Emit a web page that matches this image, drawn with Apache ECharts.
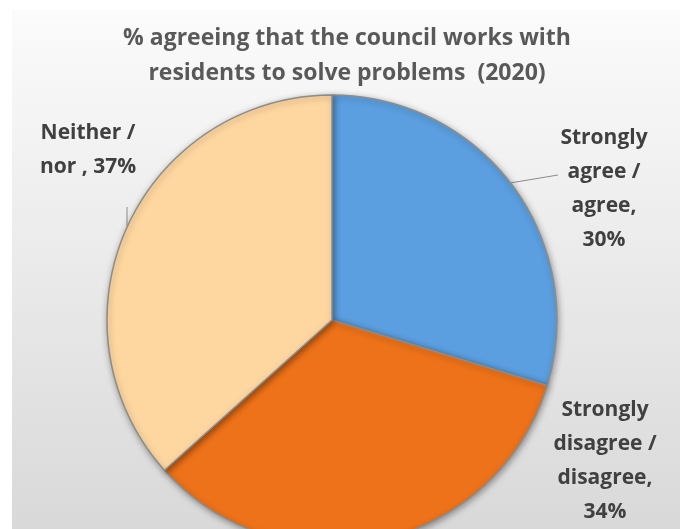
<!DOCTYPE html>
<html>
<head>
<meta charset="utf-8">
<script src="https://cdn.jsdelivr.net/npm/echarts@6/dist/echarts.min.js"></script>
<style>
  html, body { margin: 0; padding: 0; background: #fff; }
  #main { width: 686px; height: 529px; }
</style>
</head>
<body>
<div id="main"></div>
<script>
// data
const titleLines = ['% agreeing that the council works with', 'residents to solve problems  (2020)']
const categories = ['Strongly\nagree /\nagree', 'Strongly\ndisagree /\ndisagree', 'Neither /\nnor ']
const shares = [30, 34, 37]
const colors = ['#5b9fe0', '#ee7219', '#fed7a0']
// text between name and value, as the picture breaks it
const joiners = [',\n', ',\n', ', ']

const font = '"Open Sans", "Liberation Sans", sans-serif'

// where each label sits (x, y of the text block centre) and its leader line
const labelSpots = [
  { x: 604, y: 189, line: [[510, 183], [558, 175]] },
  { x: 605, y: 461, line: null },
  { x: 88, y: 150, line: [[127, 226], [127, 207]] }
]

const myChart = echarts.init(document.getElementById('main'))

const option = {
  backgroundColor: '#ffffff',
  animation: false,
  graphic: [{
    type: 'rect',
    z: -10,
    silent: true,
    shape: { x: 12, y: 10, width: 668, height: 530 },
    style: {
      fill: new echarts.graphic.LinearGradient(0, 0, 0, 1, [
        { offset: 0, color: '#fbfbfb' },
        { offset: 1, color: '#d8d8d8' }
      ])
    }
  }],
  title: {
    text: titleLines.join('\n'),
    left: 342,
    top: 16,
    textAlign: 'center',
    textStyle: {
      fontFamily: font,
      fontSize: 23,
      fontWeight: 'bold',
      color: '#595959',
      lineHeight: 35
    }
  },
  series: [{
    type: 'pie',
    center: [332, 320],
    radius: [0, 225],
    startAngle: 90,
    clockwise: true,
    avoidLabelOverlap: false,
    data: categories.map((name, i) => ({
      name: name,
      value: shares[i],
      itemStyle: { color: colors[i] }
    })),
    itemStyle: {
      borderColor: '#8c8c8c',
      borderWidth: 1.5,
      shadowBlur: 6,
      shadowColor: 'rgba(0,0,0,0.35)',
      shadowOffsetX: 1,
      shadowOffsetY: 2
    },
    label: {
      show: true,
      position: 'outside',
      formatter: (p) => p.name + joiners[p.dataIndex] + p.value + '%',
      fontFamily: font,
      fontSize: 21,
      fontWeight: 'bold',
      color: '#404040',
      lineHeight: 34,
      align: 'center'
    },
    labelLine: {
      show: true,
      lineStyle: { color: '#8c8c8c', width: 1 }
    },
    labelLayout: (params) => {
      const s = labelSpots[params.dataIndex]
      return {
        x: s.x,
        y: s.y,
        align: 'center',
        verticalAlign: 'middle',
        labelLinePoints: s.line ? [s.line[0], s.line[1], s.line[1]] : [[0, 0], [0, 0], [0, 0]]
      }
    }
  }]
}

myChart.setOption(option)
</script>
</body>
</html>
